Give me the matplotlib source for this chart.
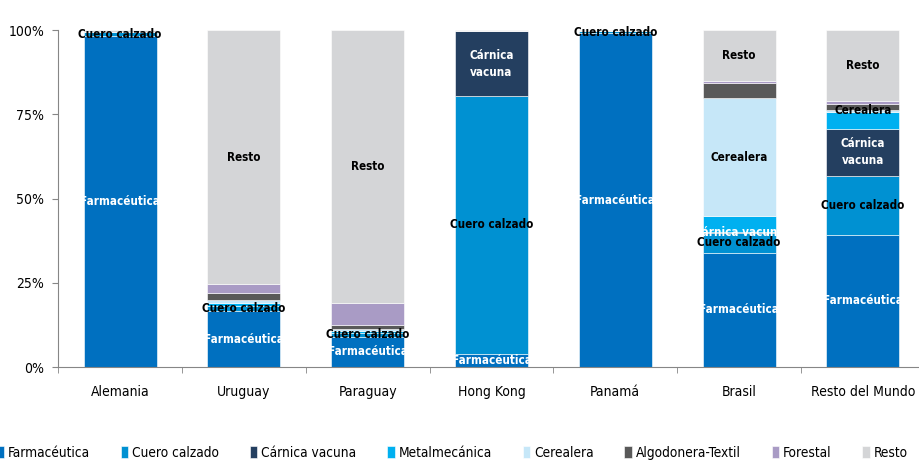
import matplotlib.pyplot as plt
import matplotlib.patches as mpatches
import numpy as np

categories = ["Alemania", "Uruguay", "Paraguay", "Hong Kong", "Panamá", "Brasil", "Resto del Mundo"]

farmaceutica = [98.3, 16.5, 9.0, 4.0, 99.0, 33.9, 39.2]
cuero_calzado = [1.0, 1.5, 1.0, 76.3, 0.7, 5.9, 17.6]
carnica_vacuna = [0.0, 0.0, 0.0, 19.3, 0.0, 0.2, 13.9]
metalmecanica = [0.0, 1.0, 0.7, 0.0, 0.0, 4.9, 5.1]
cerealera = [0.0, 0.8, 0.5, 0.0, 0.0, 34.8, 0.5]
algodonera = [0.0, 2.2, 1.3, 0.0, 0.0, 4.7, 1.8]
forestal = [0.0, 2.5, 6.5, 0.0, 0.0, 0.5, 0.9]
resto = [0.7, 75.5, 81.0, 0.4, 0.3, 15.1, 21.0]

series_names = ["Farmacéutica", "Cuero calzado", "Cárnica vacuna", "Metalmecánica",
                "Cerealera", "Algodonera-Textil", "Forestal", "Resto"]
series_vals = [farmaceutica, cuero_calzado, carnica_vacuna, metalmecanica,
               cerealera, algodonera, forestal, resto]
colors = ["#0070C0", "#0091D2", "#243F60", "#00B0F0",
          "#C6E7F8", "#595959", "#A99BC5", "#D4D5D7"]
label_colors = ["white", "black", "white", "black", "black", "black", "black", "black"]

# which category gets a data label for each series (text per category, None = no label)
labels = {
    0: ["Farmacéutica"] * 7,
    1: ["Cuero calzado"] * 7,
    2: [None, None, None, "Cárnica\nvacuna", None, "Cárnica vacuna", "Cárnica\nvacuna"],
    4: [None, None, None, None, None, "Cerealera", "Cerealera"],
    7: [None, "Resto", "Resto", None, None, "Resto", "Resto"],
}

font = dict(family="DejaVu Sans", stretch="condensed")

fig = plt.figure(figsize=(9.2, 4.62), dpi=100)
ax = fig.add_axes([0.0632, 0.2056, 0.942, 0.7294])

x = np.arange(len(categories))
w = 0.59
bottom = np.zeros(len(categories))
for i, (vals, c) in enumerate(zip(series_vals, colors)):
    vals = np.array(vals)
    ax.bar(x, vals, w, bottom=bottom, color=c, edgecolor="white", linewidth=0.4,
           label=series_names[i])
    if i in labels:
        for j, txt in enumerate(labels[i]):
            if txt is None:
                continue
            t = ax.text(x[j], bottom[j] + vals[j] / 2, txt, ha="center", va="center",
                        color=label_colors[i], fontsize=8.4, fontweight="bold",
                        linespacing=1.45, **font)
            clip = mpatches.Rectangle((x[j] - w / 2, 0), w, 100, transform=ax.transData)
            t.set_clip_path(clip)
    bottom += vals

ax.set_xlim(-0.5, len(categories) - 0.5)
ax.set_ylim(0, 100)
ax.set_yticks([0, 25, 50, 75, 100])
ax.set_yticklabels(["0%", "25%", "50%", "75%", "100%"], fontsize=10, **font)
ax.set_xticks(x)
ax.set_xticklabels(categories, fontsize=10, **font)
ax.set_xticks(np.arange(len(categories) + 1) - 0.5, minor=True)
ax.tick_params(axis="x", which="major", length=0, pad=13)
ax.tick_params(axis="x", which="minor", length=4, color="#868686", direction="out")
ax.tick_params(axis="y", length=4, color="#868686", pad=6)
for s in ["top", "right"]:
    ax.spines[s].set_visible(False)
for s in ["left", "bottom"]:
    ax.spines[s].set_color("#868686")

fig.legend(loc="center", bbox_to_anchor=(0.4915, 0.02), ncol=8, frameon=False,
           handlelength=0.55, handleheight=0.9, handletextpad=0.3, columnspacing=2.25,
           prop={"family": "DejaVu Sans", "stretch": "condensed", "size": 9.8})

fig.savefig("out.png", dpi=100)
